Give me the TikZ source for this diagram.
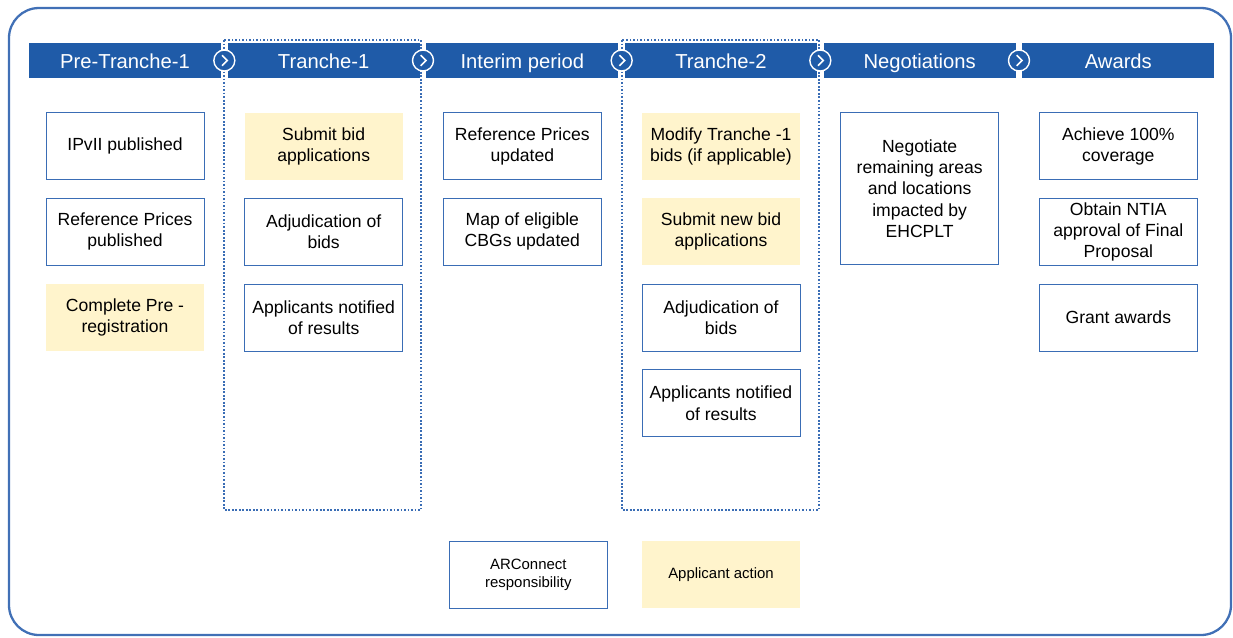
\documentclass[tikz,border=0pt]{standalone}
\usepackage{fontspec}
\setmainfont{Liberation Sans}
\usetikzlibrary{positioning}
\definecolor{PhaseBlue}{HTML}{1F5BA8}
\definecolor{BoxBlue}{HTML}{3A6DB5}
\definecolor{FrameBlue}{HTML}{4170B6}
\definecolor{ActionYellow}{HTML}{FFF4CC}

\begin{document}
\begin{tikzpicture}[x=0.02cm, y=-0.02cm,
                    phase/.style={fill=PhaseBlue, text=white, minimum width=3.84cm,
                                  minimum height=0.7cm, inner sep=0pt,
                                  text height=2.1ex, text depth=0.35ex,
                                  font=\fontsize{11.5}{13}\selectfont},
                    chev/.style={circle, draw=white, line width=0.8pt, fill=PhaseBlue,
                                 minimum size=0.42cm, inner sep=0pt,
                                 path picture={\draw[white, line width=0.9pt]
                                   ([xshift=-1.3pt, yshift=3pt]path picture bounding box.center)
                                   -- ++(3pt,-3pt) -- ++(-3pt,-3pt);}},
                    task/.style={draw=BoxBlue, fill=white, minimum width=3.16cm,
                                 minimum height=1.34cm, inner sep=0pt, align=center,
                                 font=\fontsize{10}{12}\selectfont},
                    action/.style={task, draw=none, fill=ActionYellow},
                    tranche/.style={draw=BoxBlue, line width=1pt, dash pattern=on 1pt off 1pt}]
\useasboundingbox (0,0) rectangle (1233,637);
\draw[FrameBlue, line width=1.3pt, rounded corners=0.6cm] (9,8) rectangle (1231,635);

% phase bar
\node[phase] (h1) at (125,60.5) {Pre-Tranche-1};
\node[phase, right=0.12cm of h1] (h2) {Tranche-1};
\node[phase, right=0.12cm of h2] (h3) {Interim period};
\node[phase, right=0.12cm of h3] (h4) {Tranche-2};
\node[phase, right=0.12cm of h4] (h5) {Negotiations};
\node[phase, right=0.12cm of h5] (h6) {Awards};

% tranche windows
\draw[tranche] (224,40) rectangle (421,510);
\draw[tranche] (622,40) rectangle (819,510);

\node[chev] (c1) at ([xshift=0.06cm]h1.east) {};
\node[chev] (c2) at ([xshift=0.06cm]h2.east) {};
\node[chev] (c3) at ([xshift=0.06cm]h3.east) {};
\node[chev] (c4) at ([xshift=0.06cm]h4.east) {};
\node[chev] (c5) at ([xshift=0.06cm]h5.east) {};

% pre-tranche-1
\node[task, below=0.68cm of h1] (ipvii) {IPvII published};
\node[task, below=0.36cm of ipvii] (refpub) {Reference Prices\\ published};
\node[action, below=0.36cm of refpub] (prereg) {Complete Pre -\\ registration};

% tranche-1
\node[action, below=0.68cm of h2] (t1submit) {Submit bid\\ applications};
\node[task, below=0.36cm of t1submit] (t1adj) {Adjudication of\\ bids};
\node[task, below=0.36cm of t1adj] (t1notify) {Applicants notified\\ of results};

% interim period
\node[task, below=0.68cm of h3] (refupd) {Reference Prices\\ updated};
\node[task, below=0.36cm of refupd] (cbgmap) {Map of eligible\\ CBGs updated};

% tranche-2
\node[action, below=0.68cm of h4] (t2modify) {Modify Tranche -1\\ bids (if applicable)};
\node[action, below=0.36cm of t2modify] (t2submit) {Submit new bid\\ applications};
\node[task, below=0.36cm of t2submit] (t2adj) {Adjudication of\\ bids};
\node[task, below=0.36cm of t2adj] (t2notify) {Applicants notified\\ of results};

% negotiations
\node[task, below=0.68cm of h5, minimum height=3.04cm] (negotiate)
  {Negotiate\\ remaining areas\\ and locations\\ impacted by\\ EHCPLT};

% awards
\node[task, below=0.68cm of h6] (coverage) {Achieve 100\%\\ coverage};
\node[task, below=0.36cm of coverage] (ntia) {Obtain NTIA\\ approval of Final\\ Proposal};
\node[task, below=0.36cm of ntia] (grant) {Grant awards};

% legend
\node[action, below=2.08cm of t2notify, font=\fontsize{8.5}{10.5}\selectfont] (keyapp) {Applicant action};
\node[task, left=0.68cm of keyapp, font=\fontsize{8.5}{10.5}\selectfont] (keyarc) {ARConnect\\ responsibility};
\end{tikzpicture}
\end{document}
